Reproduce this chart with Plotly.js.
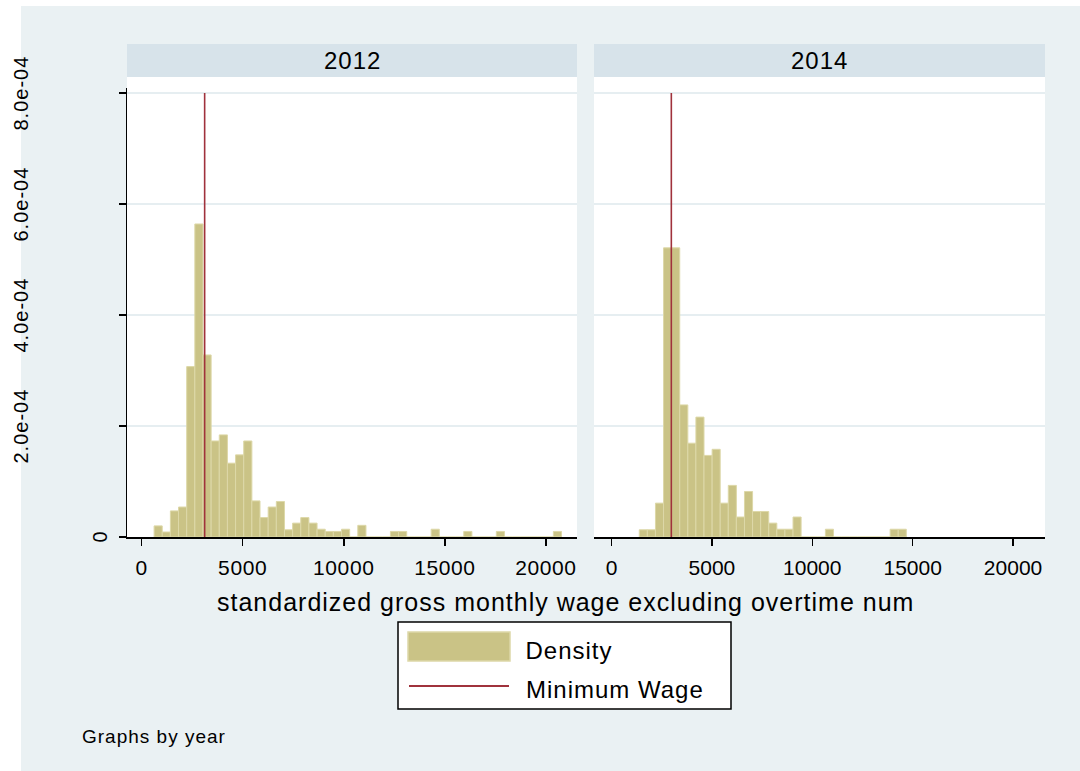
<!DOCTYPE html>
<html>
<head>
<meta charset="utf-8">
<script src="https://cdn.plot.ly/plotly-3.0.1.min.js"></script>
<style>
  html, body { margin: 0; padding: 0; background: #ffffff; }
  #chart { width: 1080px; height: 771px; }
  /* slightly looser letter spacing for all chart text */
  #chart .annotation-text { letter-spacing: 1px; }
  #chart .xtick text { letter-spacing: 0.6px; }
</style>
</head>
<body>
<div id="chart"></div>
<script>
// Histogram of standardized gross monthly wage, by year
const years = ["2012", "2014"];

// bin layout (wage units)
const binWidth = 403;
const binStart2012 = 620;
const binStart2014 = 1384;

// density per bin (x 1e-4)
const density2012 = [
  0.20, 0.09, 0.47, 0.54, 3.07, 5.64, 3.28, 1.73, 1.84, 1.33,
  1.48, 1.73, 0.65, 0.35, 0.54, 0.64, 0.13, 0.25, 0.35, 0.25,
  0.14, 0.10, 0.10, 0.14, 0.00, 0.21, 0.00, 0.00, 0.00, 0.10,
  0.10, 0.00, 0.00, 0.00, 0.14, 0.00, 0.00, 0.00, 0.10, 0.00,
  0.00, 0.00, 0.10, 0.00, 0.00, 0.00, 0.00, 0.00, 0.00, 0.10
];
const density2014 = [
  0.13, 0.13, 0.61, 5.21, 5.21, 2.38, 1.69, 2.16, 1.47, 1.58,
  0.61, 0.93, 0.36, 0.82, 0.46, 0.46, 0.25, 0.14, 0.14, 0.36,
  0.00, 0.00, 0.00, 0.14, 0.00, 0.00, 0.00, 0.00, 0.00, 0.00,
  0.00, 0.14, 0.14
];

// minimum wage reference per year
const minimumWage = [3120, 2980];
const minWageTop = 8e-4;

const xTickVals = [0, 5000, 10000, 15000, 20000];
const xTickText = ["0", "5000", "10000", "15000", "20000"];
const yTickVals = [0, 2e-4, 4e-4, 6e-4, 8e-4];
const yTickText = ["0", "2.0e-04", "4.0e-04", "6.0e-04", "8.0e-04"];

const xTitle = "standardized gross monthly wage excluding overtime num";
const legendLabels = ["Density", "Minimum Wage"];
const noteText = "Graphs by year";

// ---- styling ----
const FONT = "Liberation Sans, Arial, Helvetica, sans-serif";
const BAR_FILL = "#cac386";
const BAR_EDGE = "#ddd8a8";
const LINE_RED = "#a0323c";
const BG_BLUE = "#eaf1f3";
const STRIP_BLUE = "#d7e3ea";
const GRID = "#e6eef1";

// pixel helpers for the fixed 1080x771 canvas
const W = 1080, H = 771;
const M = { l: 127, r: 35, t: 88, b: 234 };
const PW = W - M.l - M.r, PH = H - M.t - M.b;
const px = v => (v - M.l) / PW;
const py = v => (H - M.b - v) / PH;

function centers(start, n) {
  const out = [];
  for (let i = 0; i < n; i++) out.push(start + binWidth * (i + 0.5));
  return out;
}

function scaled(arr) { return arr.map(v => v * 1e-4); }

const traces = [
  {
    type: "bar", x: centers(binStart2012, density2012.length), y: scaled(density2012),
    width: binWidth, xaxis: "x", yaxis: "y",
    marker: { color: BAR_FILL, line: { color: BAR_EDGE, width: 1 } }
  },
  {
    type: "bar", x: centers(binStart2014, density2014.length), y: scaled(density2014),
    width: binWidth, xaxis: "x2", yaxis: "y2",
    marker: { color: BAR_FILL, line: { color: BAR_EDGE, width: 1 } }
  },
  {
    type: "scatter", mode: "lines", x: [minimumWage[0], minimumWage[0]], y: [0, minWageTop],
    xaxis: "x", yaxis: "y", line: { color: LINE_RED, width: 1.6 }
  },
  {
    type: "scatter", mode: "lines", x: [minimumWage[1], minimumWage[1]], y: [0, minWageTop],
    xaxis: "x2", yaxis: "y2", line: { color: LINE_RED, width: 1.6 }
  }
];

const leftDomain = [0, px(577)];
const rightDomain = [px(594), 1];
const yRange = [0, 8.09e-4];

const xAxisBase = {
  showline: true, linecolor: "#000000", linewidth: 1.5,
  ticks: "outside", ticklen: 7, tickwidth: 1.5, tickcolor: "#000000",
  tickvals: xTickVals, ticktext: xTickText, ticklabelstandoff: 4,
  tickfont: { family: FONT, size: 21, color: "#000000" },
  showgrid: false, zeroline: false, fixedrange: true
};
const yAxisBase = {
  range: yRange, tickvals: yTickVals, showticklabels: false,
  showgrid: true, gridcolor: GRID, gridwidth: 1.5,
  zeroline: false, fixedrange: true
};

const shapes = [
  // white margin strips on the left and top edge
  { type: "rect", xref: "paper", yref: "paper", x0: px(0), x1: px(21), y0: py(H), y1: py(0),
    fillcolor: "#ffffff", line: { width: 0 }, layer: "below" },
  { type: "rect", xref: "paper", yref: "paper", x0: px(0), x1: px(W), y0: py(6), y1: py(0),
    fillcolor: "#ffffff", line: { width: 0 }, layer: "below" },
  // panel headers
  { type: "rect", xref: "paper", yref: "paper", x0: px(127), x1: px(577), y0: py(77), y1: py(44),
    fillcolor: STRIP_BLUE, line: { width: 0 } },
  { type: "rect", xref: "paper", yref: "paper", x0: px(594), x1: px(1045), y0: py(77), y1: py(44),
    fillcolor: STRIP_BLUE, line: { width: 0 } },
  // white band between header and plot area
  { type: "rect", xref: "paper", yref: "paper", x0: px(127), x1: px(577), y0: py(88), y1: py(77),
    fillcolor: "#ffffff", line: { width: 0 } },
  { type: "rect", xref: "paper", yref: "paper", x0: px(594), x1: px(1045), y0: py(88), y1: py(77),
    fillcolor: "#ffffff", line: { width: 0 } },
  // legend box
  { type: "rect", xref: "paper", yref: "paper", x0: px(398), x1: px(731), y0: py(709), y1: py(622),
    fillcolor: "#ffffff", line: { color: "#000000", width: 1.5 } },
  { type: "rect", xref: "paper", yref: "paper", x0: px(408), x1: px(510), y0: py(661), y1: py(632),
    fillcolor: BAR_FILL, line: { color: BAR_EDGE, width: 1.5 } },
  { type: "line", xref: "paper", yref: "paper", x0: px(409), x1: px(509), y0: py(686), y1: py(686),
    line: { color: LINE_RED, width: 2 } }
];

function label(text, xPix, yPix, size, xanchor) {
  return {
    text: text, xref: "paper", yref: "paper", x: px(xPix), y: py(yPix),
    xanchor: xanchor || "center", yanchor: "middle", showarrow: false,
    font: { family: FONT, size: size, color: "#000000" }
  };
}

const annotations = [
  label(years[0], 352, 61, 24),
  label(years[1], 819.5, 61, 24),
  label(xTitle, 565, 602, 25),
  label(legendLabels[0], 527, 650, 24, "left"),
  label(legendLabels[1], 530, 689, 24, "left"),
  label(noteText, 87, 736, 19, "left")
];

// vertical y tick labels
yTickVals.forEach((v, i) => {
  annotations.push({
    text: yTickText[i], xref: "paper", yref: "y", x: px(i === 0 ? 100 : 21), y: v,
    xanchor: "center", yanchor: "middle",
    textangle: -90, showarrow: false, font: { family: FONT, size: 20, color: "#000000" }
  });
});

const layout = {
  width: W, height: H,
  margin: M,
  paper_bgcolor: BG_BLUE,
  plot_bgcolor: "#ffffff",
  showlegend: false,
  hovermode: false,
  bargap: 0,
  xaxis: Object.assign({}, xAxisBase, { domain: leftDomain, range: [-720, 21535], anchor: "y" }),
  xaxis2: Object.assign({}, xAxisBase, { domain: rightDomain, range: [-871, 21590], anchor: "y2" }),
  yaxis: Object.assign({}, yAxisBase, {
    anchor: "x", showline: true, linecolor: "#000000", linewidth: 1.5,
    ticks: "outside", ticklen: 7, tickwidth: 1.5, tickcolor: "#000000"
  }),
  yaxis2: Object.assign({}, yAxisBase, { anchor: "x2", matches: "y", showline: false, ticks: "" }),
  shapes: shapes,
  annotations: annotations
};

Plotly.newPlot("chart", traces, layout, { staticPlot: true, displayModeBar: false });
</script>
</body>
</html>
